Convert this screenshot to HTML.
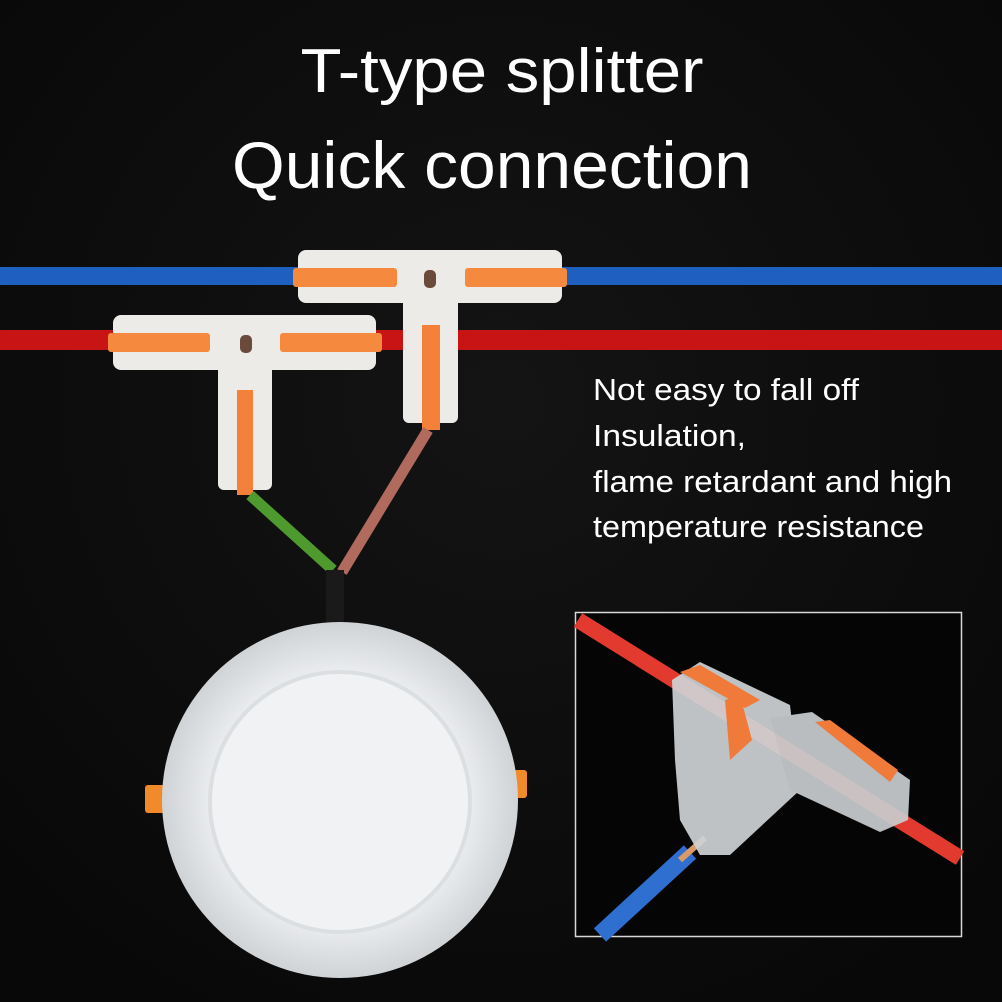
<!DOCTYPE html>
<html><head><meta charset="utf-8"><style>
html,body{margin:0;padding:0;background:#0c0c0c;}
svg{display:block}
text{font-family:"Liberation Sans",sans-serif;fill:#fff}
</style></head><body>
<svg width="1002" height="1002" viewBox="0 0 1002 1002" xmlns="http://www.w3.org/2000/svg">
<defs>
<radialGradient id="lamp" cx="0.5" cy="0.5" r="0.5">
<stop offset="0" stop-color="#f4f5f7"/><stop offset="0.7" stop-color="#eceef0"/><stop offset="1" stop-color="#d0d3d6"/>
</radialGradient>
<radialGradient id="bg" cx="0.5" cy="0.4" r="0.7">
<stop offset="0" stop-color="#141414"/><stop offset="1" stop-color="#080808"/>
</radialGradient>
</defs>
<rect width="1002" height="1002" fill="url(#bg)"/>
<text x="502" y="92" font-size="62" text-anchor="middle" textLength="403" lengthAdjust="spacingAndGlyphs">T-type splitter</text>
<text x="492" y="188" font-size="66" text-anchor="middle" textLength="520" lengthAdjust="spacingAndGlyphs">Quick connection</text>

<rect x="0" y="267" width="1002" height="18" fill="#1e5fc0"/>
<rect x="0" y="330" width="1002" height="20" fill="#c81414"/>

<rect x="298" y="250" width="264" height="53" rx="8" fill="#ecebe8"/>
<rect x="403" y="295" width="55" height="128" rx="6" fill="#ecebe8"/>
<rect x="293" y="268" width="104" height="19" rx="3" fill="#f58a3e"/>
<rect x="465" y="268" width="102" height="19" rx="3" fill="#f58a3e"/>
<rect x="422" y="325" width="18" height="105" fill="#f5803a"/>
<rect x="424" y="270" width="12" height="18" rx="5" fill="#6a4a3a"/>

<rect x="113" y="315" width="263" height="55" rx="8" fill="#ecebe8"/>
<rect x="218" y="362" width="54" height="128" rx="6" fill="#ecebe8"/>
<rect x="108" y="333" width="102" height="19" rx="3" fill="#f58a3e"/>
<rect x="280" y="333" width="102" height="19" rx="3" fill="#f58a3e"/>
<rect x="237" y="390" width="16" height="105" fill="#f5803a"/>
<rect x="240" y="335" width="12" height="18" rx="5" fill="#6a4a3a"/>

<line x1="250" y1="495" x2="333" y2="570" stroke="#4e9a2e" stroke-width="11"/>
<line x1="428" y1="430" x2="342" y2="572" stroke="#b06a5e" stroke-width="11"/>
<rect x="326" y="570" width="18" height="60" fill="#1a1a1a"/>

<rect x="145" y="785" width="22" height="28" rx="3" fill="#f08a2a"/>
<rect x="505" y="770" width="22" height="28" rx="3" fill="#f08a2a"/>
<circle cx="340" cy="800" r="178" fill="url(#lamp)"/>
<circle cx="340" cy="802" r="130" fill="#f1f2f4" stroke="#dcdfe2" stroke-width="4"/>

<g font-size="31">
<text x="593" y="400" textLength="266" lengthAdjust="spacingAndGlyphs">Not easy to fall off</text>
<text x="593" y="446" textLength="153" lengthAdjust="spacingAndGlyphs">Insulation,</text>
<text x="593" y="492" textLength="359" lengthAdjust="spacingAndGlyphs">flame retardant and high</text>
<text x="593" y="537" textLength="331" lengthAdjust="spacingAndGlyphs">temperature resistance</text>
</g>

<rect x="575.5" y="612.5" width="386" height="324" fill="#050505" stroke="#d8d8d8" stroke-width="1.5"/>
<line x1="578" y1="620" x2="960" y2="858" stroke="#e23a2e" stroke-width="16"/>
<line x1="600" y1="935" x2="690" y2="852" stroke="#2f6fd0" stroke-width="18"/>
<line x1="680" y1="860" x2="705" y2="838" stroke="#d99a6a" stroke-width="6"/>
<g opacity="0.92">
<path d="M672 680 L700 662 L790 705 L800 790 L730 855 L700 855 L680 820 L675 760 Z" fill="#cfd3d6"/>
<path d="M770 718 L812 712 L910 780 L908 820 L880 832 L790 790 Z" fill="#c9cdd0"/>
</g>
<path d="M680 672 L700 665 L760 700 L745 708 Z" fill="#f07a3a"/>
<path d="M725 700 L740 695 L752 740 L730 760 Z" fill="#f07a3a"/>
<path d="M815 722 L830 720 L898 770 L890 782 Z" fill="#f07a3a"/>
</svg>
</body></html>
